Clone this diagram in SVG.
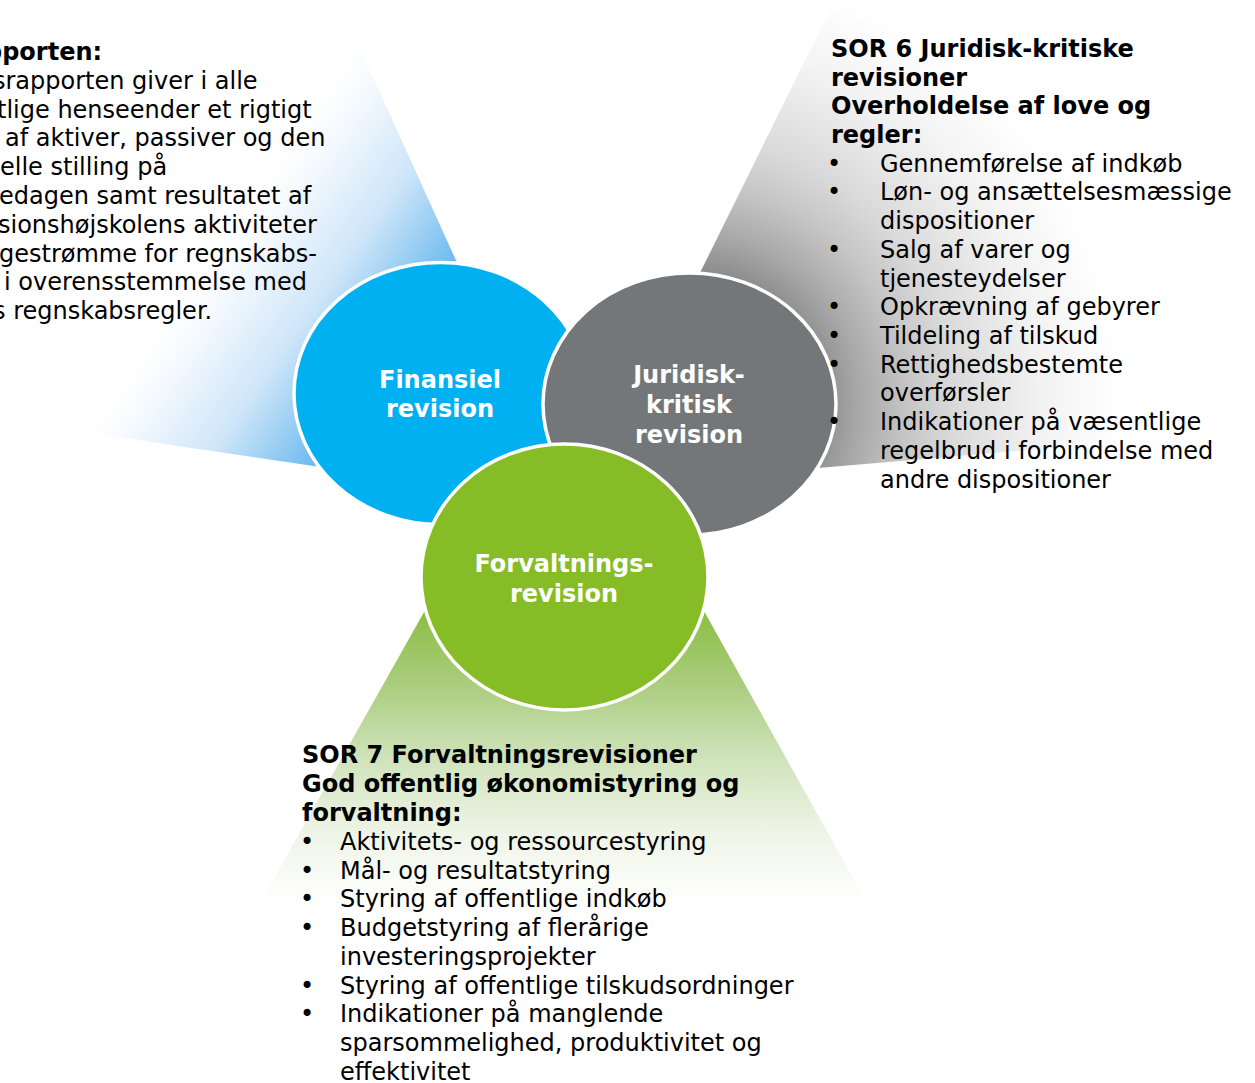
<svg xmlns="http://www.w3.org/2000/svg" width="1255" height="1083" viewBox="0 0 1255 1083">
<defs>
<linearGradient id="gBlue" gradientUnits="userSpaceOnUse" x1="262.4" y1="182.4" x2="430.5" y2="299.3">
<stop offset="0" stop-color="#ffffff"/>
<stop offset="0.15" stop-color="#f6fafe"/>
<stop offset="0.55" stop-color="#cfe6f9"/>
<stop offset="0.78" stop-color="#9ccff3"/>
<stop offset="1" stop-color="#6cb9ee"/>
</linearGradient>
<radialGradient id="gGray" gradientUnits="userSpaceOnUse" cx="689" cy="404" r="440">
<stop offset="0.29" stop-color="#888888"/>
<stop offset="0.39" stop-color="#a9a9a9"/>
<stop offset="0.5" stop-color="#c6c6c6"/>
<stop offset="0.6" stop-color="#d9d9d9"/>
<stop offset="0.8" stop-color="#f2f2f2"/>
<stop offset="0.98" stop-color="#ffffff"/>
</radialGradient>
<linearGradient id="gGreen" gradientUnits="userSpaceOnUse" x1="0" y1="613" x2="0" y2="905">
<stop offset="0" stop-color="#8cbe45"/>
<stop offset="0.25" stop-color="#abcd80"/>
<stop offset="0.5" stop-color="#d0e3bb"/>
<stop offset="0.75" stop-color="#eef4e6"/>
<stop offset="1" stop-color="#ffffff"/>
</linearGradient>
</defs>
<style>
.t{font-family:"DejaVu Sans",Verdana,sans-serif;font-size:24px;fill:#000}
.b{font-weight:bold}
.c{font-family:"DejaVu Sans",Verdana,sans-serif;font-size:24px;font-weight:bold;fill:#fff;text-anchor:middle}
.circ{stroke:#fff;stroke-width:3.5}
</style>
<rect width="1255" height="1083" fill="#fff"/>
<g id="wedges">
<polygon id="wedge-blue" points="338,0 566,503 -60,411 -60,0" fill="url(#gBlue)"/>
<polygon id="wedge-gray" points="835,0 1300,0 1300,427 594,487" fill="url(#gGray)"/>
<polygon id="wedge-green" points="565,362 255,912 872,912" fill="url(#gGreen)"/>
</g>
<g id="connectors"/>
<g id="node-finansiel">
<ellipse class="circ" cx="440.5" cy="393.5" rx="146.5" ry="131" fill="#00b0f0"/>
<text class="c" x="440" y="388">Finansiel</text>
<text class="c" x="440" y="417">revision</text>
</g>
<g id="node-juridisk">
<ellipse class="circ" cx="689.5" cy="404" rx="146.5" ry="131" fill="#747779"/>
<text class="c" x="689" y="383">Juridisk-</text>
<text class="c" x="689" y="413">kritisk</text>
<text class="c" x="689" y="443">revision</text>
</g>
<g id="node-forvaltning">
<ellipse class="circ" cx="564.5" cy="577" rx="143.5" ry="133" fill="#86bc25"/>
<text class="c" x="564" y="572">Forvaltnings-</text>
<text class="c" x="564" y="602">revision</text>
</g>
<g id="text-finansiel" class="t">
<text class="t b" x="-15" y="60">pporten:</text>
<text class="t" x="-7" y="89">srapporten giver i alle</text>
<text class="t" x="-3" y="118">tlige henseender et rigtigt</text>
<text class="t" x="5" y="146">af aktiver, passiver og den</text>
<text class="t" x="0" y="175">elle stilling på</text>
<text class="t" x="-1" y="204">edagen samt resultatet af</text>
<text class="t" x="-2" y="233">sionshøjskolens aktiviteter</text>
<text class="t" x="-1" y="262">gestrømme for regnskabs-</text>
<text class="t" x="4" y="290">i overensstemmelse med</text>
<text class="t" x="-7" y="319">s regnskabsregler.</text>
</g>
<g id="text-juridisk">
<text class="t b" x="831" y="57">SOR 6 Juridisk-kritiske</text>
<text class="t b" x="831" y="86">revisioner</text>
<text class="t b" x="831" y="114">Overholdelse af love og</text>
<text class="t b" x="831" y="143">regler:</text>
<text class="t" x="827" y="172">•</text><text class="t" x="880" y="172">Gennemførelse af indkøb</text>
<text class="t" x="827" y="200">•</text><text class="t" x="880" y="200">Løn- og ansættelsesmæssige</text>
<text class="t" x="880" y="229">dispositioner</text>
<text class="t" x="827" y="258">•</text><text class="t" x="880" y="258">Salg af varer og</text>
<text class="t" x="880" y="287">tjenesteydelser</text>
<text class="t" x="827" y="315">•</text><text class="t" x="880" y="315">Opkrævning af gebyrer</text>
<text class="t" x="827" y="344">•</text><text class="t" x="880" y="344">Tildeling af tilskud</text>
<text class="t" x="827" y="373">•</text><text class="t" x="880" y="373">Rettighedsbestemte</text>
<text class="t" x="880" y="401">overførsler</text>
<text class="t" x="827" y="430">•</text><text class="t" x="880" y="430">Indikationer på væsentlige</text>
<text class="t" x="880" y="459">regelbrud i forbindelse med</text>
<text class="t" x="880" y="488">andre dispositioner</text>
</g>
<g id="text-forvaltning">
<text class="t b" x="302" y="763">SOR 7 Forvaltningsrevisioner</text>
<text class="t b" x="302" y="792">God offentlig økonomistyring og</text>
<text class="t b" x="302" y="821">forvaltning:</text>
<text class="t" x="300" y="850">•</text><text class="t" x="340" y="850">Aktivitets- og ressourcestyring</text>
<text class="t" x="300" y="879">•</text><text class="t" x="340" y="879">Mål- og resultatstyring</text>
<text class="t" x="300" y="907">•</text><text class="t" x="340" y="907">Styring af offentlige indkøb</text>
<text class="t" x="300" y="936">•</text><text class="t" x="340" y="936">Budgetstyring af flerårige</text>
<text class="t" x="340" y="965">investeringsprojekter</text>
<text class="t" x="300" y="994">•</text><text class="t" x="340" y="994">Styring af offentlige tilskudsordninger</text>
<text class="t" x="300" y="1022">•</text><text class="t" x="340" y="1022">Indikationer på manglende</text>
<text class="t" x="340" y="1051">sparsommelighed, produktivitet og</text>
<text class="t" x="340" y="1080">effektivitet</text>
</g>
</svg>
